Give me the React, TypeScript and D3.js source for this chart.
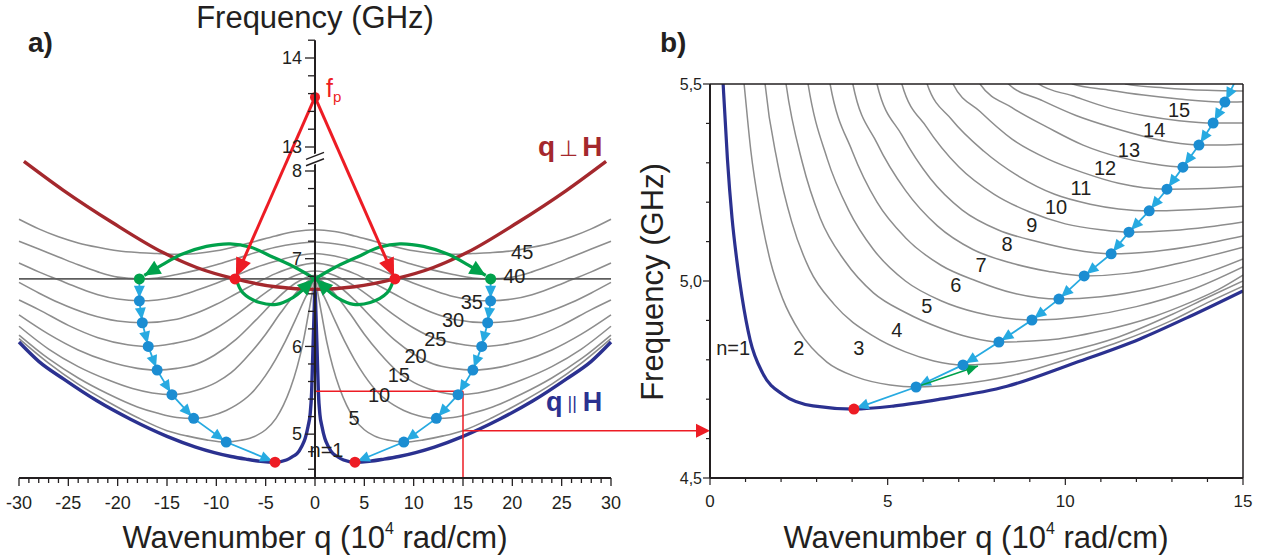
import React from "react";
import * as d3 from "d3";

type Pt = [number, number];

// ---------- panel a: spin-wave modes, q >= 0 half (the spectrum is symmetric in q) ----------
const modeNumbersA = [1, 5, 10, 15, 20, 25, 30, 35, 40, 45];
const modeA1: Pt[] = [[0, 6.65], [0.1, 6.35], [0.2, 6.0], [0.34, 5.48], [0.5, 5.22], [0.7, 5.09], [1.0, 4.95], [1.35, 4.86], [1.8, 4.78], [2.2, 4.75], [2.9, 4.705], [4.05, 4.68], [5.5, 4.69], [7, 4.715], [8.5, 4.745], [10.2, 4.79], [12.1, 4.853], [15, 4.975], [18.7, 5.17], [22.1, 5.38], [25.5, 5.63], [28, 5.83], [30, 6.05]];
const modeA5: Pt[] = [[0, 6.77], [0.3, 6.6], [0.7, 6.35], [1.2, 6.05], [1.8, 5.77], [2.5, 5.52], [3.2, 5.33], [3.95, 5.18], [5, 5.05], [6, 4.98], [7.5, 4.93], [9, 4.91], [11, 4.935], [13, 4.98], [15, 5.04], [18, 5.19], [21, 5.37], [24, 5.57], [27, 5.81], [30, 6.09]];
const modeA10: Pt[] = [[0, 6.77], [0.5, 6.66], [1, 6.55], [2, 6.3], [3, 6.06], [4, 5.85], [5, 5.67], [6.5, 5.46], [8, 5.33], [9, 5.27], [10.5, 5.21], [12.3, 5.18], [14, 5.19], [16, 5.24], [18, 5.31], [21, 5.46], [24, 5.64], [27, 5.86], [30, 6.13]];
const modeA15: Pt[] = [[0, 6.78], [1, 6.72], [2, 6.6], [3.5, 6.38], [5, 6.14], [6.5, 5.93], [8.5, 5.7], [10, 5.59], [12, 5.5], [14.5, 5.45], [16.5, 5.47], [18.5, 5.52], [21, 5.62], [24, 5.77], [27, 5.97], [30, 6.23]];
const modeA20: Pt[] = [[0, 6.81], [1, 6.78], [2, 6.72], [4, 6.53], [6, 6.3], [8, 6.08], [10.2, 5.9], [12, 5.8], [14, 5.75], [16, 5.73], [18, 5.75], [21, 5.83], [24, 5.96], [27, 6.14], [30, 6.36]];
const modeA25: Pt[] = [[0, 6.86], [2, 6.81], [4, 6.69], [6, 6.53], [8, 6.36], [10, 6.21], [12.2, 6.09], [14.5, 6.03], [16.9, 6.0], [19, 6.02], [22, 6.1], [25, 6.24], [28, 6.42], [30, 6.53]];
const modeA30: Pt[] = [[0, 6.95], [2, 6.91], [4, 6.83], [6, 6.72], [8, 6.6], [10, 6.48], [12, 6.38], [14, 6.31], [17.5, 6.27], [20, 6.29], [23, 6.37], [26, 6.5], [28, 6.61], [30, 6.73]];
const modeA35: Pt[] = [[0, 7.06], [2, 7.03], [4, 6.97], [6, 6.9], [8, 6.81], [10, 6.72], [12, 6.64], [14, 6.57], [16, 6.53], [17.8, 6.52], [20, 6.54], [22, 6.59], [24, 6.67], [26, 6.76], [28, 6.85], [30, 6.95]];
const modeA40: Pt[] = [[0, 7.19], [2, 7.17], [4, 7.13], [6, 7.07], [8, 7.0], [10, 6.93], [12, 6.87], [14, 6.82], [16, 6.78], [17.8, 6.77], [20, 6.79], [22, 6.85], [24, 6.93], [26, 7.02], [28, 7.11], [30, 7.2]];
const modeA45: Pt[] = [[0, 7.33], [2, 7.31], [4, 7.26], [6, 7.2], [8, 7.14], [10, 7.09], [12, 7.06], [14, 7.05], [16, 7.06], [18, 7.07], [20, 7.09], [22, 7.13], [24, 7.18], [26, 7.25], [28, 7.34], [30, 7.45]];
const modesA: Pt[][] = [modeA1, modeA5, modeA10, modeA15, modeA20, modeA25, modeA30, modeA35, modeA40, modeA45];

// surface (q ⊥ H) branch
const perpA: Pt[] = [[0, 6.65], [4, 6.68], [8.1, 6.77], [12, 6.9], [15.4, 7.07], [20.5, 7.41], [25.5, 7.78], [29.5, 8.11]];

// pumping frequency, half of it, and the pair of magnons created at f_p / 2
const pumpFreq = 13.56;
const halfPump = 6.77;
const pumpedQ = 8.1;

// cascade of magnons: minima of the modes n = 40, 35, ..., 5 and the bottom of n = 1
const cascadeStartA: Pt = [17.8, 6.77];
const cascadeDotsA: Pt[] = [[17.8, 6.52], [17.5, 6.27], [16.9, 6.0], [16.0, 5.73], [14.5, 5.45], [12.3, 5.18], [9.0, 4.91]];
const bottomA: Pt = [4.05, 4.68];

// scattering arcs (green)
const arcUpA: Pt[] = [[0, 6.77], [2, 6.9], [4.3, 7.02], [6.5, 7.13], [8.6, 7.17], [11, 7.14], [13.5, 7.05], [15.5, 6.93], [17.3, 6.81]];
const arcDownA: Pt[] = [[8.0, 6.77], [7.3, 6.61], [5.6, 6.5], [3.9, 6.48], [2.2, 6.56], [1.2, 6.65], [0.15, 6.765]];

// zoom window drawn in panel a (q 0..15, f 4.5..5.5)
const zoomBoxA = { q: 15, fTop: 5.49, fBottom: 4.5, fArrow: 5.04 };

// mode labels in panel a: [text, q, f]
const labelsA: [string, number, number][] = [["n=1", 1.17, 4.82], ["5", 3.95, 5.18], ["10", 6.5, 5.45], ["15", 8.5, 5.67], ["20", 10.2, 5.89], ["25", 12.2, 6.08], ["30", 14, 6.3], ["35", 15.9, 6.51], ["40", 20.2, 6.8], ["45", 21, 7.08]];

const xTicksA = d3.range(-30, 31);
const yTicksLowA = d3.range(23, 41).map((i) => i / 5); // 4.6 .. 8.0
const yTicksHighA = d3.range(65, 72).map((i) => i / 5); // 13.0 .. 14.2

// ---------- panel b: low-frequency part, modes n = 1..16 ----------
const modeB1: Pt[] = [[0.3, 5.62], [0.37, 5.5], [0.49, 5.31], [0.62, 5.16], [0.75, 5.056], [0.9, 4.96], [1.13, 4.85], [1.49, 4.765], [2.05, 4.712], [2.9, 4.683], [4.05, 4.675], [5.2, 4.683], [6.47, 4.7], [8.36, 4.733], [10.2, 4.79], [12.1, 4.853], [13.5, 4.91], [15, 4.975]];
const modeB2: Pt[] = [[0.85, 5.6], [0.96, 5.5], [1.15, 5.33], [1.4, 5.18], [1.7, 5.05], [2.05, 4.954], [2.53, 4.87], [3.29, 4.794], [4.13, 4.756], [5.07, 4.736], [5.8, 4.731], [7, 4.738], [8.5, 4.76], [10, 4.8], [11.5, 4.845], [13, 4.9], [14, 4.945], [15, 4.987]];
const modeB3: Pt[] = [[1.45, 5.6], [1.55, 5.5], [1.9, 5.3], [2.3, 5.15], [2.8, 5.03], [3.5, 4.94], [4.6, 4.86], [5.5, 4.82], [6.3, 4.797], [7.12, 4.787], [8.5, 4.795], [10, 4.82], [11.5, 4.858], [13, 4.915], [14, 4.958], [15, 5.0]];
const modeB4: Pt[] = [[2.0, 5.6], [2.14, 5.5], [2.6, 5.3], [3.1, 5.16], [3.8, 5.05], [4.6, 4.97], [5.5, 4.92], [6.5, 4.88], [7.3, 4.857], [8.13, 4.845], [9.5, 4.85], [11, 4.873], [12.5, 4.91], [13.5, 4.945], [14.3, 4.978], [15, 5.015]];
const modeB5: Pt[] = [[2.6, 5.6], [2.76, 5.5], [3.3, 5.31], [3.9, 5.18], [4.6, 5.08], [5.5, 5.0], [6.5, 4.95], [7.5, 4.92], [8.3, 4.906], [9.06, 4.901], [10.5, 4.91], [12, 4.935], [13.5, 4.976], [15, 5.036]];
const modeB6: Pt[] = [[3.2, 5.6], [3.38, 5.5], [4.0, 5.33], [4.7, 5.2], [5.5, 5.11], [6.5, 5.04], [7.5, 5.0], [8.5, 4.97], [9.82, 4.954], [11, 4.96], [12.5, 4.983], [13.8, 5.015], [15, 5.056]];
const modeB7: Pt[] = [[3.85, 5.6], [4.02, 5.5], [4.7, 5.35], [5.5, 5.23], [6.4, 5.14], [7.4, 5.08], [8.5, 5.045], [9.5, 5.025], [10.53, 5.013], [11.8, 5.02], [13.2, 5.045], [15, 5.086]];
const modeB8: Pt[] = [[4.5, 5.6], [4.7, 5.5], [5.4, 5.37], [6.2, 5.26], [7.1, 5.18], [8.1, 5.13], [9.2, 5.1], [10.2, 5.08], [11.29, 5.069], [12.5, 5.075], [13.8, 5.092], [15, 5.114]];
const modeB9: Pt[] = [[5.2, 5.6], [5.4, 5.5], [6.1, 5.39], [7.0, 5.29], [8.0, 5.22], [9.0, 5.175], [10.0, 5.145], [11.0, 5.13], [11.79, 5.124], [13, 5.128], [14, 5.137], [15, 5.15]];
const modeB10: Pt[] = [[5.9, 5.6], [6.11, 5.5], [6.8, 5.41], [7.7, 5.33], [8.7, 5.265], [9.7, 5.22], [10.7, 5.195], [11.5, 5.183], [12.36, 5.178], [13.5, 5.181], [15, 5.19]];
const modeB11: Pt[] = [[6.6, 5.6], [6.84, 5.5], [7.6, 5.43], [8.5, 5.36], [9.5, 5.31], [10.5, 5.275], [11.5, 5.248], [12.86, 5.233], [14, 5.235], [15, 5.24]];
const modeB12: Pt[] = [[7.4, 5.6], [7.6, 5.5], [8.5, 5.44], [9.5, 5.39], [10.5, 5.345], [11.5, 5.315], [12.4, 5.298], [13.31, 5.289], [14.2, 5.289], [15, 5.292]];
const modeB13: Pt[] = [[8.2, 5.6], [8.4, 5.5], [9.3, 5.46], [10.3, 5.42], [11.3, 5.39], [12.3, 5.365], [13.0, 5.352], [13.76, 5.345], [14.4, 5.345], [15, 5.347]];
const modeB14: Pt[] = [[9.0, 5.6], [9.25, 5.5], [10.2, 5.47], [11.2, 5.44], [12.2, 5.42], [13.2, 5.407], [14.16, 5.401], [15, 5.401]];
const modeB15: Pt[] = [[10.0, 5.6], [10.2, 5.5], [11.2, 5.485], [12.2, 5.472], [13.2, 5.462], [14.49, 5.454], [15, 5.455]];
const modeB16: Pt[] = [[11.4, 5.6], [11.7, 5.5], [12.8, 5.49], [14.0, 5.484], [15, 5.482]];
const modesB: Pt[][] = [modeB1, modeB2, modeB3, modeB4, modeB5, modeB6, modeB7, modeB8, modeB9, modeB10, modeB11, modeB12, modeB13, modeB14, modeB15, modeB16];

// minima of the modes n = 1..15 and the continuation of the chain past the top edge
const cascadeDotsB: Pt[] = [[4.05, 4.675], [5.8, 4.731], [7.12, 4.787], [8.13, 4.845], [9.06, 4.901], [9.82, 4.954], [10.53, 5.013], [11.29, 5.069], [11.79, 5.124], [12.36, 5.178], [12.86, 5.233], [13.31, 5.289], [13.76, 5.345], [14.16, 5.401], [14.49, 5.454]];
const cascadeEntryB: Pt = [14.8, 5.51];
const greenStepB: Pt[] = [[5.8, 4.731], [7.54, 4.784]];

const labelsB: [string, number, number][] = [["n=1", 0.65, 4.83], ["2", 2.5, 4.83], ["3", 4.19, 4.83], ["4", 5.26, 4.876], ["5", 6.1, 4.937], ["6", 6.92, 4.99], ["7", 7.63, 5.04], ["8", 8.36, 5.094], ["9", 9.06, 5.142], ["10", 9.74, 5.188], ["11", 10.44, 5.236], ["12", 11.12, 5.287], ["13", 11.79, 5.332], ["14", 12.5, 5.383], ["15", 13.2, 5.434]];

const xTicksB = d3.range(0, 16);
const yTicksB = d3.range(45, 56).map((i) => i / 10);

// ---------- styling ----------
const FONT = "'Liberation Sans', Arial, Helvetica, sans-serif";
const COL = {
  ink: "#231f20",
  gray: "#8d8d8d",
  level: "#5e5e5e",
  perp: "#a4282d",
  par: "#2b3190",
  red: "#ed1c24",
  green: "#00a14b",
  cyan: "#27aae1",
  dot: "#1b8dd2",
};

const mirror = (half: Pt[]): Pt[] => [
  ...half.slice(1).reverse().map(([q, f]) => [-q, f] as Pt),
  ...half,
];

function head(tip: number[], from: number[], len: number, wid: number): string {
  const dx = tip[0] - from[0];
  const dy = tip[1] - from[1];
  const L = Math.hypot(dx, dy) || 1;
  const ux = dx / L;
  const uy = dy / L;
  const bx = tip[0] - ux * len;
  const by = tip[1] - uy * len;
  return `${tip[0]},${tip[1]} ${bx - (uy * wid) / 2},${by + (ux * wid) / 2} ${bx + (uy * wid) / 2},${by - (ux * wid) / 2}`;
}

// tip of an arrow ending next to a dot of radius r
function tipAt(to: number[], from: number[], r: number): number[] {
  const dx = to[0] - from[0];
  const dy = to[1] - from[1];
  const L = Math.hypot(dx, dy) || 1;
  return [to[0] - (dx / L) * r, to[1] - (dy / L) * r];
}

const isMajor = (v: number) => Math.abs(v - Math.round(v)) < 1e-6;

export default function App() {
  // panel a scales: broken frequency axis (lower 4.5..8.1, upper 12.9..14.2)
  const xA = d3.scaleLinear().domain([-30, 30]).range([19, 611]);
  const yLo = d3.scaleLinear().domain([4.5, 8]).range([478, 171]);
  const yHi = d3.scaleLinear().domain([13, 14]).range([147, 58]);
  // panel b scales
  const xB = d3.scaleLinear().domain([0, 15]).range([710, 1243]);
  const yB = d3.scaleLinear().domain([4.5, 5.5]).range([478, 84]);

  const lineA = d3.line<Pt>().x((d) => xA(d[0])).y((d) => yLo(d[1])).curve(d3.curveMonotoneX);
  const arcA = d3.line<Pt>().x((d) => xA(d[0])).y((d) => yLo(d[1])).curve(d3.curveCatmullRom.alpha(0.5));
  const lineB = d3.line<Pt>().x((d) => xB(d[0])).y((d) => yB(d[1])).curve(d3.curveMonotoneX);

  const x0 = xA(0);
  const sides = [1, -1];

  // ---- panel a elements ----
  const grayCurvesA = modesA.slice(1).map((half, i) => (
    <path key={`ga${i}`} d={lineA(mirror(half)) || ""} fill="none" stroke={COL.gray} strokeWidth={1.6} />
  ));

  const cascadeA = sides.map((s) => {
    const pts: Pt[] = [cascadeStartA, ...cascadeDotsA, bottomA].map(([q, f]) => [s * q, f] as Pt);
    const px = pts.map(([q, f]) => [xA(q), yLo(f)]);
    const heads = px.slice(1).map((p, i) => {
      const from = px[i];
      const tip = tipAt(p, from, 3);
      return <polygon key={`ha${s}${i}`} points={head(tip, from, 12, 11)} fill={COL.cyan} />;
    });
    return (
      <g key={`ca${s}`}>
        <polyline points={px.map((p) => p.join(",")).join(" ")} fill="none" stroke={COL.cyan} strokeWidth={1.8} />
        {heads}
        {cascadeDotsA.map(([q, f], i) => (
          <circle key={`da${s}${i}`} cx={xA(s * q)} cy={yLo(f)} r={5.5} fill={COL.dot} />
        ))}
        <circle cx={xA(s * cascadeStartA[0])} cy={yLo(cascadeStartA[1])} r={5.5} fill={COL.green} />
        <circle cx={xA(s * bottomA[0])} cy={yLo(bottomA[1])} r={5.5} fill={COL.red} />
      </g>
    );
  });

  const greenArcsA = sides.map((s) => {
    const up = arcUpA.map(([q, f]) => [s * q, f] as Pt);
    const down = arcDownA.map(([q, f]) => [s * q, f] as Pt);
    const upPx = up.map(([q, f]) => [xA(q), yLo(f)]);
    const dnPx = down.map(([q, f]) => [xA(q), yLo(f)]);
    return (
      <g key={`gr${s}`}>
        <path d={arcA(up) || ""} fill="none" stroke={COL.green} strokeWidth={3.2} />
        <polygon points={head(upPx[upPx.length - 1], upPx[upPx.length - 2], 16, 15)} fill={COL.green} />
        <path d={arcA(down) || ""} fill="none" stroke={COL.green} strokeWidth={3.2} />
        <polygon points={head(dnPx[dnPx.length - 1], dnPx[dnPx.length - 2], 16, 15)} fill={COL.green} />
      </g>
    );
  });

  const fpPx = [x0, yHi(pumpFreq)];
  const pumpArrows = sides.map((s) => {
    const dotPx = [xA(s * pumpedQ), yLo(halfPump)];
    const tip = tipAt(dotPx, fpPx, 2);
    const dx = tip[0] - fpPx[0];
    const dy = tip[1] - fpPx[1];
    const L = Math.hypot(dx, dy);
    const end = [tip[0] - (dx / L) * 12, tip[1] - (dy / L) * 12];
    return (
      <g key={`pa${s}`}>
        <line x1={fpPx[0]} y1={fpPx[1]} x2={end[0]} y2={end[1]} stroke={COL.red} strokeWidth={3} />
        <polygon points={head(tip, fpPx, 19, 16)} fill={COL.red} />
        <circle cx={dotPx[0]} cy={dotPx[1]} r={5.5} fill={COL.red} />
      </g>
    );
  });

  const yLowBreak = yLo(8.1);
  const yHighBreak = yHi(12.9);

  const arrowY = yLo(zoomBoxA.fArrow);
  const arrowTip = [xB(0), arrowY];

  // ---- panel b: cascade ----
  const cascB: Pt[] = [cascadeEntryB, ...cascadeDotsB.slice().reverse()];
  const cascBPx = cascB.map(([q, f]) => [xB(q), yB(f)]);
  const headsB = cascBPx.slice(1).map((p, i) => {
    const from = cascBPx[i];
    const tip = tipAt(p, from, 3);
    return <polygon key={`hb${i}`} points={head(tip, from, 12, 11)} fill={COL.cyan} />;
  });
  const gPx = greenStepB.map(([q, f]) => [xB(q), yB(f)]);

  const txt = { fontFamily: FONT, fill: COL.ink } as const;

  return (
    <svg width={1267} height={560} viewBox="0 0 1267 560" style={{ position: "absolute", left: 0, top: 0, background: "#fff" }}>
      <defs>
        <clipPath id="clipB">
          <rect x={xB(0)} y={yB(5.5)} width={xB(15) - xB(0)} height={yB(4.5) - yB(5.5)} />
        </clipPath>
      </defs>

      {/* ================= panel a ================= */}
      {grayCurvesA}
      <line x1={xA(-30)} x2={xA(30)} y1={yLo(halfPump)} y2={yLo(halfPump)} stroke={COL.level} strokeWidth={1.8} />
      <path d={lineA(mirror(perpA)) || ""} fill="none" stroke={COL.perp} strokeWidth={3.4} />
      <path d={lineA(mirror(modeA1)) || ""} fill="none" stroke={COL.par} strokeWidth={3.4} />

      {/* zoom window and arrow towards panel b */}
      <line x1={x0} x2={xA(zoomBoxA.q)} y1={yLo(zoomBoxA.fTop)} y2={yLo(zoomBoxA.fTop)} stroke={COL.red} strokeWidth={1.5} />
      <line x1={xA(zoomBoxA.q)} x2={xA(zoomBoxA.q)} y1={yLo(zoomBoxA.fTop)} y2={yLo(zoomBoxA.fBottom)} stroke={COL.red} strokeWidth={1.5} />
      <line x1={xA(zoomBoxA.q)} x2={arrowTip[0] - 12} y1={arrowY} y2={arrowY} stroke={COL.red} strokeWidth={1.5} />
      <polygon points={head(arrowTip, [xA(zoomBoxA.q), arrowY], 14, 14)} fill={COL.red} />

      {cascadeA}
      {greenArcsA}
      {pumpArrows}
      <circle cx={fpPx[0]} cy={fpPx[1]} r={5} fill={COL.red} />

      {/* axes of panel a */}
      <line x1={xA(-30)} x2={xA(30)} y1={yLo(4.5)} y2={yLo(4.5)} stroke={COL.ink} strokeWidth={2} />
      {xTicksA.map((v) => (
        <line key={`xt${v}`} x1={xA(v)} x2={xA(v)} y1={yLo(4.5)} y2={yLo(4.5) + (v % 5 === 0 ? 8 : 5)} stroke={COL.ink} strokeWidth={1.3} />
      ))}
      {xTicksA.filter((v) => v % 5 === 0).map((v) => (
        <text key={`xl${v}`} x={xA(v)} y={509} textAnchor="middle" fontSize={18} {...txt}>{v}</text>
      ))}
      <line x1={x0} x2={x0} y1={yLo(4.5)} y2={yLowBreak} stroke={COL.ink} strokeWidth={2} />
      <line x1={x0} x2={x0} y1={yHighBreak} y2={yHi(14.2)} stroke={COL.ink} strokeWidth={2} />
      {yTicksLowA.map((v) => (
        <line key={`yl${v}`} x1={x0 - (isMajor(v) ? 10 : 7)} x2={x0} y1={yLo(v)} y2={yLo(v)} stroke={COL.ink} strokeWidth={1.3} />
      ))}
      {yTicksHighA.map((v) => (
        <line key={`yh${v}`} x1={x0 - (isMajor(v) ? 10 : 7)} x2={x0} y1={yHi(v)} y2={yHi(v)} stroke={COL.ink} strokeWidth={1.3} />
      ))}
      {yTicksLowA.filter(isMajor).map((v) => (
        <text key={`yll${v}`} x={302} y={yLo(v)} dy="0.35em" textAnchor="end" fontSize={18} {...txt}>{v}</text>
      ))}
      {yTicksHighA.filter(isMajor).map((v) => (
        <text key={`yhl${v}`} x={302} y={yHi(v)} dy="0.35em" textAnchor="end" fontSize={18} {...txt}>{v}</text>
      ))}
      {[yHighBreak, yLowBreak].map((y, i) => (
        <g key={`br${i}`}>
          <line x1={x0 - 9} x2={x0 + 9} y1={y + 3.5} y2={y - 3.5} stroke="#fff" strokeWidth={4} />
          <line x1={x0 - 9} x2={x0 + 9} y1={y + 3.5} y2={y - 3.5} stroke={COL.ink} strokeWidth={1.4} />
        </g>
      ))}

      {/* labels of panel a */}
      {labelsA.map(([t, q, f]) => (
        <text key={`la${t}`} x={xA(q)} y={yLo(f)} dy="0.35em" textAnchor="middle" fontSize={20} {...txt}>{t}</text>
      ))}
      <text x={326} y={97} fontFamily={FONT} fill={COL.red} fontSize={25}>
        f<tspan fontSize={15} dy={5}>p</tspan>
      </text>
      <text x={538} y={156} fontFamily={FONT} fill={COL.perp} fontSize={28}>
        <tspan fontWeight="bold">q</tspan>
        <tspan fontFamily="'DejaVu Sans', sans-serif" fontSize={22} dx={4}>⊥</tspan>
        <tspan fontWeight="bold" dx={4}>H</tspan>
      </text>
      <text x={546} y={411} fontFamily={FONT} fill={COL.par} fontSize={27}>
        <tspan fontWeight="bold">q</tspan>
        <tspan fontSize={18} dx={5} dy={-2}>||</tspan>
        <tspan fontWeight="bold" dx={6} dy={2}>H</tspan>
      </text>
      <text x={315} y={28} textAnchor="middle" fontSize={31} {...txt}>Frequency (GHz)</text>
      <text x={315} y={548} textAnchor="middle" fontSize={31} {...txt}>
        Wavenumber q (10<tspan fontSize={16} dy={-14}>4</tspan><tspan dy={14}> rad/cm)</tspan>
      </text>
      <text x={28} y={52} fontSize={28} fontWeight="bold" {...txt}>a)</text>

      {/* ================= panel b ================= */}
      <g clipPath="url(#clipB)">
        {modesB.slice(1).map((c, i) => (
          <path key={`gb${i}`} d={lineB(c) || ""} fill="none" stroke={COL.gray} strokeWidth={1.5} />
        ))}
        <path d={lineB(modeB1) || ""} fill="none" stroke={COL.par} strokeWidth={3.2} />
        <polyline points={cascBPx.map((p) => p.join(",")).join(" ")} fill="none" stroke={COL.cyan} strokeWidth={1.8} />
        {headsB}
      </g>
      <line x1={gPx[0][0]} y1={gPx[0][1]} x2={gPx[1][0]} y2={gPx[1][1]} stroke={COL.green} strokeWidth={1.6} />
      <polygon points={head(gPx[1], gPx[0], 12, 11)} fill={COL.green} />
      {cascadeDotsB.map(([q, f], i) => (
        <circle key={`db${i}`} cx={xB(q)} cy={yB(f)} r={5.5} fill={i === 0 ? COL.red : COL.dot} />
      ))}

      {/* frame and axes of panel b */}
      <line x1={xB(0)} x2={xB(15)} y1={yB(5.5)} y2={yB(5.5)} stroke={COL.ink} strokeWidth={1.5} />
      <line x1={xB(15)} x2={xB(15)} y1={yB(5.5)} y2={yB(4.5)} stroke={COL.ink} strokeWidth={1.5} />
      <line x1={xB(0)} x2={xB(15)} y1={yB(4.5)} y2={yB(4.5)} stroke={COL.ink} strokeWidth={2} />
      <line x1={xB(0)} x2={xB(0)} y1={yB(4.5)} y2={yB(5.5)} stroke={COL.ink} strokeWidth={2} />
      {xTicksB.map((v) => (
        <line key={`xbt${v}`} x1={xB(v)} x2={xB(v)} y1={yB(4.5)} y2={yB(4.5) + (v % 5 === 0 ? 7 : 4)} stroke={COL.ink} strokeWidth={1.2} />
      ))}
      {xTicksB.filter((v) => v % 5 === 0).map((v) => (
        <text key={`xbl${v}`} x={xB(v)} y={507} textAnchor="middle" fontSize={17} {...txt}>{v}</text>
      ))}
      {yTicksB.map((v, i) => (
        <line key={`ybt${i}`} x1={xB(0) - (i % 5 === 0 ? 7 : 4)} x2={xB(0)} y1={yB(v)} y2={yB(v)} stroke={COL.ink} strokeWidth={1.2} />
      ))}
      {yTicksB.filter((_, i) => i % 5 === 0).map((v) => (
        <text key={`ybl${v}`} x={702} y={yB(v)} dy="0.35em" textAnchor="end" fontSize={16} {...txt}>{v.toFixed(1).replace(".", ",")}</text>
      ))}

      {labelsB.map(([t, q, f]) => (
        <text key={`lb${t}`} x={xB(q)} y={yB(f)} dy="0.35em" textAnchor="middle" fontSize={20} {...txt}>{t}</text>
      ))}
      <text transform={`translate(663,282) rotate(-90)`} textAnchor="middle" fontSize={31} {...txt}>Frequency (GHz)</text>
      <text x={976} y={548} textAnchor="middle" fontSize={31} {...txt}>
        Wavenumber q (10<tspan fontSize={16} dy={-14}>4</tspan><tspan dy={14}> rad/cm)</tspan>
      </text>
      <text x={660} y={52} fontSize={28} fontWeight="bold" {...txt}>b)</text>
    </svg>
  );
}
